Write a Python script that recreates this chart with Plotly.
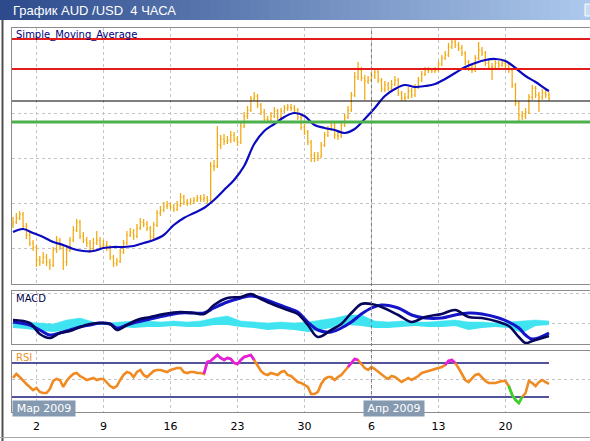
import plotly.graph_objects as go

# ---------------- data ----------------
TITLE = "График AUD /USD  4 ЧАСА"
TICK_IDX = [7, 27, 47, 67, 87, 107, 127, 147]
TICK_TEXT = ["2", "9", "16", "23", "30", "6", "13", "20"]
MONTHS = ["Мар 2009", "Апр 2009"]
APR_START = 104.5

OPEN = [
0.6480,0.6490,0.6510,0.6530,0.6470,0.6425,0.6385,0.6365,0.6300,0.6290,
0.6315,0.6290,0.6275,0.6350,0.6400,0.6370,0.6290,0.6350,0.6400,0.6450,
0.6490,0.6420,0.6400,0.6385,0.6350,0.6385,0.6400,0.6370,0.6375,0.6365,
0.6315,0.6285,0.6295,0.6340,0.6385,0.6425,0.6440,0.6420,0.6460,0.6490,
0.6480,0.6460,0.6415,0.6475,0.6535,0.6550,0.6570,0.6575,0.6565,0.6555,
0.6575,0.6615,0.6590,0.6585,0.6595,0.6600,0.6610,0.6605,0.6610,0.6600,
0.6770,0.6770,0.6875,0.6905,0.6895,0.6900,0.6925,0.6905,0.6890,0.6970,
0.7020,0.7050,0.7105,0.7120,0.7075,0.7040,0.7005,0.7000,0.7020,0.7045,
0.7015,0.7045,0.7060,0.7065,0.7060,0.7050,0.7015,0.6965,0.6940,0.6890,
0.6825,0.6810,0.6820,0.6875,0.6925,0.6955,0.6975,0.6925,0.6920,0.6975,
0.7015,0.7050,0.7125,0.7215,0.7250,0.7210,0.7195,0.7200,0.7220,0.7240,
0.7200,0.7155,0.7175,0.7160,0.7180,0.7200,0.7135,0.7110,0.7115,0.7145,
0.7125,0.7165,0.7200,0.7230,0.7250,0.7250,0.7245,0.7250,0.7280,0.7310,
0.7325,0.7365,0.7390,0.7375,0.7360,0.7335,0.7290,0.7260,0.7250,0.7310,
0.7350,0.7335,0.7285,0.7265,0.7265,0.7285,0.7275,0.7285,0.7275,0.7250,
0.7175,0.7085,0.7025,0.7020,0.7040,0.7115,0.7160,0.7125,0.7115,0.7135,
0.7125]
HIGH = [
0.6515,0.6535,0.6545,0.6540,0.6485,0.6440,0.6400,0.6375,0.6320,0.6340,
0.6330,0.6305,0.6365,0.6420,0.6410,0.6380,0.6365,0.6415,0.6470,0.6505,
0.6500,0.6440,0.6415,0.6400,0.6410,0.6445,0.6415,0.6400,0.6395,0.6375,
0.6325,0.6310,0.6355,0.6400,0.6445,0.6460,0.6455,0.6480,0.6510,0.6505,
0.6495,0.6470,0.6490,0.6550,0.6570,0.6590,0.6595,0.6590,0.6580,0.6595,
0.6635,0.6625,0.6605,0.6610,0.6615,0.6625,0.6625,0.6630,0.6620,0.6790,
0.6800,0.6970,0.6925,0.6930,0.6920,0.6945,0.6940,0.6920,0.6985,0.7040,
0.7070,0.7120,0.7140,0.7130,0.7085,0.7055,0.7020,0.7040,0.7065,0.7055,
0.7060,0.7075,0.7080,0.7080,0.7075,0.7060,0.7025,0.6980,0.6950,0.6900,
0.6840,0.6840,0.6890,0.6940,0.6970,0.6990,0.6985,0.6940,0.6990,0.7030,
0.7070,0.7140,0.7240,0.7290,0.7265,0.7225,0.7220,0.7240,0.7260,0.7250,
0.7210,0.7195,0.7190,0.7200,0.7220,0.7210,0.7145,0.7135,0.7165,0.7160,
0.7180,0.7215,0.7245,0.7265,0.7265,0.7260,0.7265,0.7295,0.7325,0.7345,
0.7385,0.7405,0.7400,0.7390,0.7375,0.7345,0.7300,0.7275,0.7325,0.7390,
0.7365,0.7345,0.7300,0.7285,0.7300,0.7295,0.7300,0.7295,0.7290,0.7260,
0.7185,0.7095,0.7045,0.7060,0.7130,0.7175,0.7170,0.7140,0.7155,0.7150,
0.7140]
LOW = [
0.6460,0.6480,0.6500,0.6455,0.6405,0.6370,0.6345,0.6265,0.6270,0.6280,
0.6270,0.6250,0.6265,0.6335,0.6350,0.6250,0.6270,0.6340,0.6390,0.6440,
0.6405,0.6385,0.6365,0.6335,0.6340,0.6375,0.6355,0.6355,0.6345,0.6300,
0.6265,0.6270,0.6285,0.6330,0.6375,0.6415,0.6400,0.6410,0.6450,0.6465,
0.6445,0.6400,0.6405,0.6465,0.6520,0.6540,0.6555,0.6550,0.6540,0.6545,
0.6565,0.6575,0.6570,0.6575,0.6580,0.6590,0.6590,0.6590,0.6580,0.6590,
0.6745,0.6760,0.6855,0.6875,0.6880,0.6885,0.6890,0.6870,0.6880,0.6960,
0.7005,0.7040,0.7095,0.7060,0.7025,0.6990,0.6985,0.6990,0.7010,0.7000,
0.7005,0.7035,0.7045,0.7045,0.7035,0.7000,0.6950,0.6925,0.6875,0.6790,
0.6790,0.6795,0.6810,0.6865,0.6915,0.6945,0.6905,0.6900,0.6910,0.6965,
0.7005,0.7040,0.7115,0.7200,0.7195,0.7100,0.7180,0.7190,0.7205,0.7185,
0.7140,0.7140,0.7145,0.7150,0.7170,0.7120,0.7095,0.7095,0.7105,0.7110,
0.7115,0.7155,0.7190,0.7220,0.7235,0.7235,0.7235,0.7240,0.7270,0.7300,
0.7315,0.7355,0.7360,0.7345,0.7320,0.7275,0.7245,0.7235,0.7240,0.7300,
0.7320,0.7270,0.7250,0.7200,0.7255,0.7260,0.7265,0.7260,0.7235,0.7160,
0.7070,0.6990,0.7000,0.7005,0.7030,0.7100,0.7110,0.7040,0.7100,0.7110,
0.7095]
CLOSE = [
0.6490,0.6510,0.6530,0.6470,0.6425,0.6385,0.6365,0.6300,0.6290,0.6315,
0.6290,0.6275,0.6350,0.6400,0.6370,0.6290,0.6350,0.6400,0.6450,0.6490,
0.6420,0.6400,0.6385,0.6350,0.6385,0.6400,0.6370,0.6375,0.6365,0.6315,
0.6285,0.6295,0.6340,0.6385,0.6425,0.6440,0.6420,0.6460,0.6490,0.6480,
0.6460,0.6415,0.6475,0.6535,0.6550,0.6570,0.6575,0.6565,0.6555,0.6575,
0.6615,0.6590,0.6585,0.6595,0.6600,0.6610,0.6605,0.6610,0.6600,0.6770,
0.6770,0.6875,0.6905,0.6895,0.6900,0.6925,0.6905,0.6890,0.6970,0.7020,
0.7050,0.7105,0.7120,0.7075,0.7040,0.7005,0.7000,0.7020,0.7045,0.7015,
0.7045,0.7060,0.7065,0.7060,0.7050,0.7015,0.6965,0.6940,0.6890,0.6825,
0.6810,0.6820,0.6875,0.6925,0.6955,0.6975,0.6925,0.6920,0.6975,0.7015,
0.7050,0.7125,0.7215,0.7250,0.7210,0.7195,0.7200,0.7220,0.7240,0.7200,
0.7155,0.7175,0.7160,0.7180,0.7200,0.7135,0.7110,0.7115,0.7145,0.7125,
0.7165,0.7200,0.7230,0.7250,0.7250,0.7245,0.7250,0.7280,0.7310,0.7325,
0.7365,0.7390,0.7375,0.7360,0.7335,0.7290,0.7260,0.7250,0.7310,0.7350,
0.7335,0.7285,0.7265,0.7265,0.7285,0.7275,0.7285,0.7275,0.7250,0.7175,
0.7085,0.7025,0.7020,0.7040,0.7115,0.7160,0.7125,0.7115,0.7135,0.7125,
0.7110]
BAR_IDX = list(range(len(CLOSE)))

SMA_IDX = [0,3,6,9,12,15,18,21,24,27,30,33,36,39,42,45,48,51,54,57,60,63,66,69,72,
           75,78,81,84,87,90,93,96,99,102,105,108,111,114,117,120,123,126,129,132,
           135,138,141,144,147,150,153,156,159,160]
SMA = [0.6440,0.6455,0.6435,0.6415,0.6390,0.6375,0.6355,0.6345,0.6345,0.6360,
       0.6365,0.6365,0.6370,0.6385,0.6400,0.6425,0.6475,0.6510,0.6535,0.6560,
       0.6600,0.6650,0.6700,0.6770,0.6880,0.6945,0.6980,0.7015,0.7035,0.7020,
       0.6975,0.6960,0.6950,0.6935,0.6955,0.7005,0.7060,0.7120,0.7155,0.7175,
       0.7165,0.7170,0.7180,0.7205,0.7235,0.7265,0.7285,0.7300,0.7305,0.7295,
       0.7260,0.7220,0.7190,0.7155,0.7145]

LEVELS = [0.7405, 0.7255, 0.7095, 0.6990]
LEVEL_COLORS = ["#E31B1B", "#E31B1B", "#000000", "#4CB04C"]
LEVEL_WIDTHS = [2, 2, 1.2, 3]

MACD_IDX = [0,5,8,11,14,17,20,23,26,29,31,34,37,41,45,50,54,57,60,64,68,71,74,78,82,
            85,88,91,95,98,101,104,107,110,115,119,123,128,132,136,140,145,148,151,153,155,160]
MACD_MAIN = [0.0006,0.0000,-0.0022,-0.0030,-0.0020,-0.0016,-0.0008,-0.0002,0.0000,-0.0002,
             -0.0014,-0.0004,0.0006,0.0012,0.0018,0.0022,0.0020,0.0018,0.0036,0.0050,
             0.0052,0.0058,0.0048,0.0036,0.0026,0.0018,-0.0004,-0.0028,-0.0014,-0.0002,
             0.0020,0.0038,0.0038,0.0032,0.0016,0.0002,0.0012,0.0018,0.0026,0.0012,
             0.0010,0.0002,-0.0006,-0.0028,-0.0040,-0.0036,-0.0026]
MACD_SIGNAL = [0.0002,-0.0004,-0.0014,-0.0024,-0.0020,-0.0014,-0.0008,-0.0004,0.0000,-0.0002,
               -0.0010,-0.0004,0.0002,0.0008,0.0014,0.0020,0.0020,0.0020,0.0030,0.0042,
               0.0050,0.0054,0.0050,0.0040,0.0030,0.0022,0.0002,-0.0014,-0.0018,-0.0010,
               0.0002,0.0018,0.0030,0.0036,0.0030,0.0016,0.0010,0.0010,0.0016,0.0020,
               0.0018,0.0010,0.0002,-0.0010,-0.0024,-0.0032,-0.0020]

OSMA_IDX = list(range(0, 161, 4))
OSMA_HI = [0.0004,0.0002,0.0000,-0.0002,0.0006,0.0010,0.0002,0.0000,0.0002,0.0004,
           0.0004,0.0002,0.0004,0.0002,0.0004,0.0010,0.0014,0.0004,0.0002,0.0000,
           0.0002,0.0000,0.0002,0.0006,0.0010,0.0016,0.0016,0.0004,0.0002,0.0004,
           0.0002,0.0002,0.0004,0.0006,0.0002,0.0002,0.0000,0.0002,0.0004,0.0006,0.0004]
OSMA_LO = [-0.0010,-0.0012,-0.0016,-0.0018,-0.0014,-0.0008,-0.0004,-0.0004,-0.0008,-0.0010,
           -0.0008,-0.0008,-0.0006,-0.0008,-0.0008,-0.0004,-0.0004,-0.0008,-0.0010,-0.0014,
           -0.0012,-0.0014,-0.0018,-0.0014,-0.0008,-0.0004,-0.0006,-0.0010,-0.0010,-0.0008,
           -0.0006,-0.0008,-0.0008,-0.0006,-0.0014,-0.0010,-0.0008,-0.0010,-0.0020,-0.0006,-0.0004]

RSI = [52.4,57.1,53.5,48.8,45.3,41.8,38.2,40.6,35.9,34.7,
       34.7,39.4,48.8,51.2,50.0,41.8,48.8,53.5,57.1,58.2,
       54.7,52.4,50.0,51.2,52.4,50.0,51.2,51.2,46.5,42.9,
       40.6,42.9,50.0,55.9,59.4,58.2,53.5,59.4,61.8,55.9,
       53.5,57.1,60.6,61.8,61.8,60.6,59.4,61.8,62.9,64.1,
       64.1,59.4,58.2,59.4,59.4,58.2,58.2,57.1,71.2,72.4,
       75.9,79.4,75.9,73.5,75.9,74.7,70.0,68.8,73.5,77.1,
       78.2,79.4,73.5,66.5,60.6,57.1,55.9,58.2,57.1,55.9,
       59.4,60.6,55.9,54.7,51.2,47.6,46.5,44.1,41.8,33.5,
       33.5,35.9,45.3,51.2,53.5,53.5,50.0,53.5,55.9,60.6,
       65.3,70.0,74.7,73.5,68.8,64.1,61.8,65.3,62.9,59.4,
       55.9,53.5,51.2,54.7,53.5,50.0,47.6,50.0,52.4,50.0,
       52.4,54.7,58.2,59.4,60.6,61.8,62.9,64.1,65.3,67.6,
       72.4,73.5,70.0,64.1,57.1,50.0,47.6,52.4,55.9,57.1,
       52.4,48.8,46.5,46.5,46.5,47.6,48.8,48.8,42.9,32.4,
       26.5,22.9,30.0,34.7,48.8,46.5,42.9,47.6,50.0,47.6,
       45.3]
RSI_HOT = [(57, 72), (100, 103), (129, 132)]
RSI_COLD = [(148, 152)]
RSI_LEVELS = [70, 30]

# ---------------- layout helpers (pixels -> paper) ----------------
W, H = 590, 441
def px(x): return x / W
def py(y): return 1 - y / H

X0 = 13.0      # pixel of bar 0
STEP = 3.35    # pixels per bar
XR = [(12 - X0) / STEP, (590 - X0) / STEP]

GRID = "#C4C4C4"
BORDER = "#8C8C8C"
DASH = "3px,3px"

fig = go.Figure()

# main panel
fig.add_trace(go.Ohlc(x=BAR_IDX, open=OPEN, high=HIGH, low=LOW, close=CLOSE,
                      increasing=dict(line=dict(color="#F4A80E", width=1.25)),
                      decreasing=dict(line=dict(color="#F4A80E", width=1.25)),
                      tickwidth=0.3, xaxis="x", yaxis="y", hoverinfo="skip"))
fig.add_trace(go.Scatter(x=SMA_IDX, y=SMA, mode="lines", line=dict(color="#0A0AC0", width=2.2, shape="spline"),
                         xaxis="x", yaxis="y", hoverinfo="skip"))

# MACD panel
fig.add_trace(go.Scatter(x=OSMA_IDX, y=OSMA_LO, mode="lines", line=dict(width=0, color="#40E4F0"),
                         xaxis="x2", yaxis="y2", hoverinfo="skip"))
fig.add_trace(go.Scatter(x=OSMA_IDX, y=OSMA_HI, mode="lines", line=dict(width=0.5, color="#40E4F0"),
                         fill="tonexty", fillcolor="#40E4F0", xaxis="x2", yaxis="y2", hoverinfo="skip"))
fig.add_trace(go.Scatter(x=MACD_IDX, y=MACD_SIGNAL, mode="lines", line=dict(color="#1414C8", width=3, shape="spline"),
                         xaxis="x2", yaxis="y2", hoverinfo="skip"))
fig.add_trace(go.Scatter(x=MACD_IDX, y=MACD_MAIN, mode="lines", line=dict(color="#06065A", width=2.6, shape="spline"),
                         xaxis="x2", yaxis="y2", hoverinfo="skip"))

# RSI panel
for lv in RSI_LEVELS:
    fig.add_trace(go.Scatter(x=[XR[0], BAR_IDX[-1]], y=[lv, lv], mode="lines",
                             line=dict(color="#1A1A7A", width=1.3), xaxis="x3", yaxis="y3", hoverinfo="skip"))
fig.add_trace(go.Scatter(x=BAR_IDX, y=RSI, mode="lines", line=dict(color="#F08A22", width=2.6),
                         xaxis="x3", yaxis="y3", hoverinfo="skip"))
for segs, col in ((RSI_HOT, "#E61CE6"), (RSI_COLD, "#2ED62E")):
    for a, b in segs:
        fig.add_trace(go.Scatter(x=BAR_IDX[a:b + 1], y=RSI[a:b + 1], mode="lines",
                                 line=dict(color=col, width=2.6), xaxis="x3", yaxis="y3", hoverinfo="skip"))

shapes = []
# window title bar gradient
c0, c1 = (44, 74, 140), (172, 200, 236)
n = 59
for k in range(n):
    t = k / (n - 1)
    col = "rgb(%d,%d,%d)" % tuple(round(c0[j] + (c1[j] - c0[j]) * t) for j in range(3))
    shapes.append(dict(type="rect", xref="paper", yref="paper", x0=px(k * 10), x1=px(k * 10 + 10),
                       y0=py(20), y1=py(0), fillcolor=col, line=dict(width=0), layer="below"))
# right window button
shapes.append(dict(type="rect", xref="paper", yref="paper", x0=px(585), x1=px(592), y0=py(16), y1=py(4),
                   fillcolor="rgba(255,255,255,0.35)", line=dict(color="white", width=1)))
# outer frame lines
shapes.append(dict(type="line", xref="paper", yref="paper", x0=px(2.5), x1=px(2.5), y0=py(20), y1=py(441),
                   line=dict(color="#505050", width=2)))
shapes.append(dict(type="line", xref="paper", yref="paper", x0=0, x1=1, y0=py(437.5), y1=py(437.5),
                   line=dict(color="#A8A8A8", width=1)))
# darker separator at the "6" week line
shapes.append(dict(type="line", xref="x", yref="paper", x0=TICK_IDX[5], x1=TICK_IDX[5], y0=py(412), y1=py(28),
                   line=dict(color="#7A7A7A", width=1, dash="3px,3px")))
# price levels
for lv, c, w in zip(LEVELS, LEVEL_COLORS, LEVEL_WIDTHS):
    shapes.append(dict(type="line", xref="x domain", yref="y", x0=0, x1=1, y0=lv, y1=lv,
                       line=dict(color=c, width=w)))
fig.update_layout(shapes=shapes)

annotations = [
    dict(text=TITLE, x=px(11), y=py(10.5), xref="paper", yref="paper", xanchor="left", yanchor="middle",
         showarrow=False, font=dict(family="Liberation Sans, Arial", size=13, color="white")),
    dict(text="Simple_Moving_Average", x=px(14), y=py(35), xref="paper", yref="paper", xanchor="left",
         yanchor="middle", showarrow=False, font=dict(family="DejaVu Sans", size=10, color="#00007A")),
    dict(text="MACD", x=px(14), y=py(298), xref="paper", yref="paper", xanchor="left",
         yanchor="middle", showarrow=False, font=dict(family="DejaVu Sans", size=10, color="#00004A")),
    dict(text="RSI", x=px(14), y=py(357), xref="paper", yref="paper", xanchor="left",
         yanchor="middle", showarrow=False, font=dict(family="DejaVu Sans", size=10, color="#E8922A")),
    dict(text=MONTHS[0], x=px(12), y=py(408), xref="paper", yref="paper", xanchor="left",
         yanchor="middle", showarrow=False, bgcolor="#8599B0", width=62, height=15, borderpad=0,
         font=dict(family="DejaVu Sans", size=11, color="white")),
    dict(text=MONTHS[1], x=APR_START, y=py(408), xref="x3", yref="paper", xanchor="left",
         yanchor="middle", showarrow=False, bgcolor="#8599B0", width=60, height=15, borderpad=0,
         font=dict(family="DejaVu Sans", size=11, color="white")),
]
fig.update_layout(annotations=annotations)

common_x = dict(range=XR, domain=[px(12), 1], tickmode="array", tickvals=TICK_IDX,
                showgrid=True, gridcolor=GRID, griddash=DASH, gridwidth=1, zeroline=False,
                showline=True, linecolor=BORDER, linewidth=1, mirror=True, fixedrange=True)
fig.update_layout(
    width=W, height=H, margin=dict(l=0, r=0, t=0, b=0),
    paper_bgcolor="white", plot_bgcolor="white", showlegend=False,
    xaxis=dict(common_x, anchor="y", showticklabels=False, rangeslider=dict(visible=False)),
    xaxis2=dict(common_x, anchor="y2", showticklabels=False, matches="x"),
    xaxis3=dict(common_x, anchor="y3", showticklabels=True, ticktext=TICK_TEXT, matches="x",
                ticks="", ticklabelstandoff=4,
                tickfont=dict(family="DejaVu Sans", size=11, color="black")),
    yaxis=dict(domain=[py(284), py(28)], range=[0.6180, 0.7460], tickmode="linear", tick0=0.6360, dtick=0.0225,
               showticklabels=False, showgrid=True, gridcolor=GRID, griddash=DASH, zeroline=False,
               showline=True, linecolor=BORDER, mirror=True, fixedrange=True),
    yaxis2=dict(domain=[py(344), py(291)], range=[-0.0042, 0.0064], tickmode="array", tickvals=[0.0, 0.006],
                showticklabels=False, showgrid=True, gridcolor=GRID, griddash=DASH, zeroline=False,
                showline=True, linecolor=BORDER, mirror=True, fixedrange=True),
    yaxis3=dict(domain=[py(412), py(351)], range=[12.35, 84.1], tickmode="array", tickvals=[50],
                showticklabels=False, showgrid=True, gridcolor=GRID, griddash=DASH, zeroline=False,
                showline=True, linecolor=BORDER, mirror=True, fixedrange=True),
)

fig.write_html("out.html", config={"displayModeBar": False},
               post_script="document.body.style.margin='0';document.body.style.overflow='hidden';")
